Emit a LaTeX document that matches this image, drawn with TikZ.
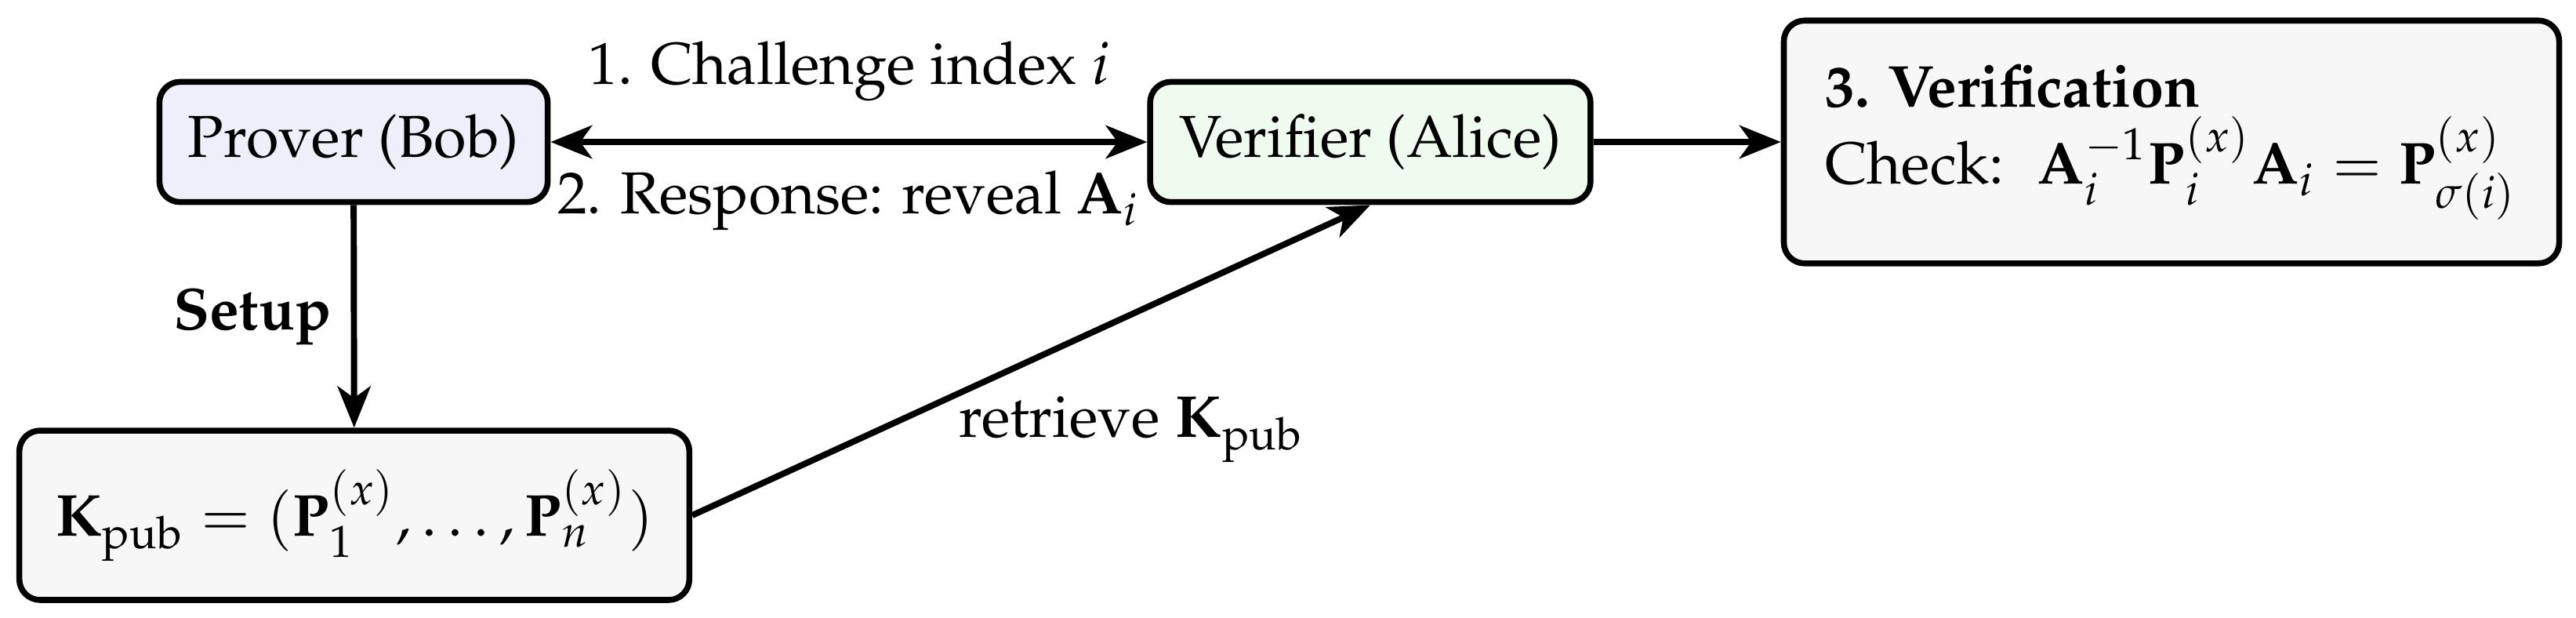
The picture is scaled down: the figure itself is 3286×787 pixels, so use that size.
\documentclass[tikz,border=0pt]{standalone}
\usepackage[T1]{fontenc}
\usepackage{mathpazo}
\usetikzlibrary{arrows.meta}
\definecolor{provfill}{HTML}{EFEFFC}
\definecolor{verfill}{HTML}{F0FBF0}
\definecolor{grayfill}{HTML}{F7F7F7}
\begin{document}
\begin{tikzpicture}[x=0.13245pt,y=-0.13245pt,
  box/.style={draw, line width=1pt, rounded corners=3.5pt, inner sep=0pt, align=center},
  conn/.style={line width=1.05pt, -{Stealth[length=7pt,width=5.6pt,inset=2pt]}},
  dconn/.style={line width=1.05pt, {Stealth[length=7pt,width=5.6pt,inset=2pt]}-{Stealth[length=7pt,width=5.6pt,inset=2pt]}},
]
\useasboundingbox (0,0) rectangle (3286,787);
\node[box, fill=provfill, minimum width=65.6pt, minimum height=20.3pt] (prover) at (451,181) {Prover (Bob)};
\node[box, fill=verfill, minimum width=74.4pt, minimum height=20.3pt] (verifier) at (1748,181) {Verifier (Alice)};
\node[box, fill=grayfill, minimum width=131pt, minimum height=41pt, align=left] (verif) at (2770,181)
  {\textbf{3. Verification}\\[1pt]
   Check: \ $\mathbf{A}_i^{-1}\mathbf{P}_i^{(x)}\mathbf{A}_i=\mathbf{P}_{\sigma(i)}^{(x)}$};
\node[box, fill=grayfill, minimum width=113.2pt, minimum height=28.6pt] (kpub) at (452,657)
  {$\mathbf{K}_{\mathrm{pub}}=(\mathbf{P}_1^{(x)},\ldots,\mathbf{P}_n^{(x)})$};
\draw[dconn] (prover) -- (verifier)
  node[midway, above=3pt] (l1) {1. Challenge index $i$}
  node[midway, below=1pt] (l2) {2. Response: reveal $\mathbf{A}_i$};
\draw[conn] (verifier) -- (verif);
\draw[conn] (prover) -- (kpub) node[midway, left] (l3) {\textbf{Setup}};
\draw[conn] (kpub.east) -- (verifier.south) node[pos=0.648, below=10pt] (l4) {retrieve $\mathbf{K}_{\mathrm{pub}}$};
\end{tikzpicture}
\end{document}
